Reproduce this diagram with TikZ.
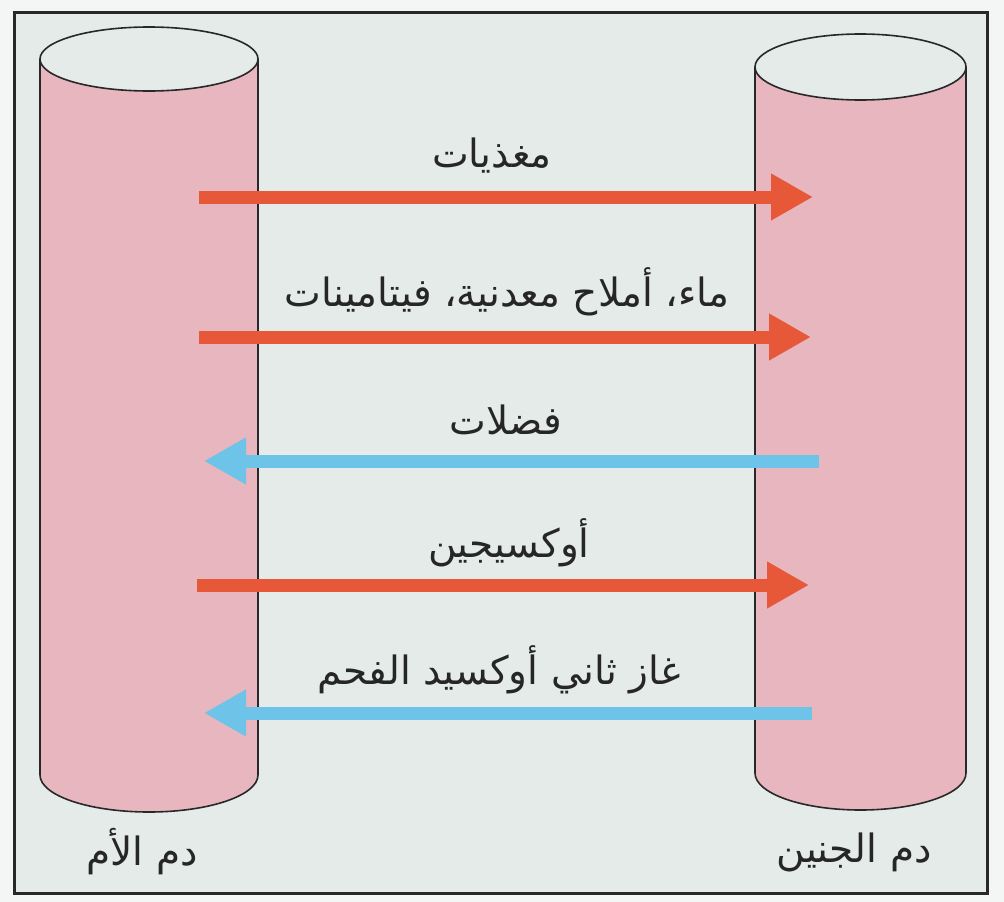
\documentclass[tikz,border=0pt]{standalone}
\usepackage{fontspec}
\usetikzlibrary{arrows.meta}
\TeXXeTstate=1
\newfontfamily\arabicfont[Script=Arabic]{DejaVu Sans}
\definecolor{bgc}{RGB}{228,235,233}
\definecolor{outc}{RGB}{244,246,246}
\definecolor{cylc}{RGB}{232,182,190}
\definecolor{redc}{RGB}{230,88,56}
\definecolor{bluec}{RGB}{110,196,232}
\definecolor{framec}{RGB}{40,40,40}
\tikzset{
  lbl/.style={font=\arabicfont\fontsize{39}{46}\selectfont, text=black!85, inner sep=0pt},
  redarrow/.style={draw=redc, line width=13pt, -{Triangle[width=44pt,length=42pt]}},
  bluearrow/.style={draw=bluec, line width=13pt, -{Triangle[width=44pt,length=42pt]}},
  cylside/.style={fill=cylc, draw=framec, line width=1.6pt},
  cyltop/.style={fill=bgc, draw=framec, line width=1.6pt}
}
\begin{document}
\begin{tikzpicture}[x=1pt,y=-1pt]
\useasboundingbox (0,0) rectangle (1004,902);
\fill[outc] (0,0) rectangle (1004,902);
\draw[fill=bgc, draw=framec, line width=3pt] (14,12) rectangle (987,893);
% left cylinder (mother)
\draw[cylside] (40,59) -- (40,775) arc[start angle=180, end angle=0, x radius=109, y radius=37] -- (258,59);
\draw[cyltop] (149,59) ellipse[x radius=109, y radius=32];
% right cylinder (fetus)
\draw[cylside] (755,67) -- (755,773) arc[start angle=180, end angle=0, x radius=105.5, y radius=37] -- (966,67);
\draw[cyltop] (860.5,67) ellipse[x radius=105.5, y radius=33];
% arrow end points
\coordinate (a1s) at (199,197); \coordinate (a1e) at (813,197);
\coordinate (a2s) at (199,337); \coordinate (a2e) at (811,337);
\coordinate (a3s) at (819,461); \coordinate (a3e) at (204,461);
\coordinate (a4s) at (197,585); \coordinate (a4e) at (809,585);
\coordinate (a5s) at (812,713); \coordinate (a5e) at (204,713);
\draw[redarrow] (a1s) -- (a1e);
\draw[redarrow] (a2s) -- (a2e);
\draw[bluearrow] (a3s) -- (a3e);
\draw[redarrow] (a4s) -- (a4e);
\draw[bluearrow] (a5s) -- (a5e);
% labels
\node[lbl] (l1) at (492,156) {\beginR مغذيات\endR};
\node[lbl] (l2) at (507,292) {\beginR ماء، أملاح معدنية، فيتامينات\endR};
\node[lbl] (l3) at (506,420) {\beginR فضلات\endR};
\node[lbl] (l4) at (509,543) {\beginR أوكسيجين\endR};
\node[lbl] (l5) at (499,670) {\beginR غاز ثاني أوكسيد الفحم\endR};
\node[lbl] (m) at (142,852) {\beginR دم الأم\endR};
\node[lbl] (f) at (854,852) {\beginR دم الجنين\endR};
\end{tikzpicture}
\end{document}
